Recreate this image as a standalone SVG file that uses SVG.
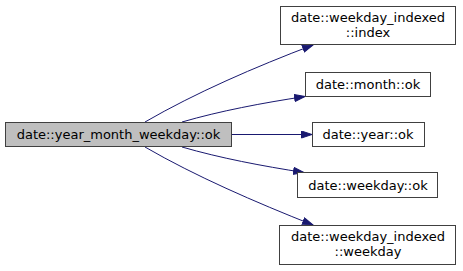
<svg xmlns="http://www.w3.org/2000/svg" width="463" height="271" viewBox="0 0 463 271">
  <style>
    .node rect { fill: #ffffff; stroke: #404040; stroke-width: 1; }
    .node.root rect { fill: #bfbfbf; }
    .node text { font-family: "DejaVu Sans", "Liberation Sans", sans-serif; font-size: 13px; fill: #000000; text-anchor: middle; }
    .edge { fill: none; stroke: #191970; stroke-width: 1; }
  </style>
  <defs>
    <marker id="arrow" markerUnits="userSpaceOnUse" markerWidth="12" markerHeight="9" refX="11" refY="4" orient="auto">
      <path d="M0.5,0.5 L11,4 L0.5,7.5 Z" fill="#191970" stroke="#191970" stroke-width="1"/>
    </marker>
  </defs>

  <g id="edges">
    <path class="edge" marker-end="url(#arrow)" d="M145,122 C195,93 255,67 313,45"/>
    <path class="edge" marker-end="url(#arrow)" d="M182,122 C220,111 262,103 305,96.5"/>
    <path class="edge" marker-end="url(#arrow)" d="M232,134.5 L312,134.5"/>
    <path class="edge" marker-end="url(#arrow)" d="M182,147 C220,158 262,166 304,172.5"/>
    <path class="edge" marker-end="url(#arrow)" d="M145,147 C195,176 255,202 313,225"/>
  </g>

  <g id="node-root" class="node root">
    <rect x="5.5" y="122.5" width="226" height="24"/>
    <text x="118.5" y="139">date::year_month_weekday::ok</text>
  </g>

  <g id="node-index" class="node">
    <rect x="280.5" y="6.5" width="175" height="38"/>
    <text x="368" y="22">date::weekday_indexed</text>
    <text x="368" y="37">::index</text>
  </g>

  <g id="node-month-ok" class="node">
    <rect x="305.5" y="72.5" width="125" height="24"/>
    <text x="368" y="89">date::month::ok</text>
  </g>

  <g id="node-year-ok" class="node">
    <rect x="312.5" y="122.5" width="112" height="24"/>
    <text x="368" y="139">date::year::ok</text>
  </g>

  <g id="node-weekday-ok" class="node">
    <rect x="297.5" y="172.5" width="140" height="25"/>
    <text x="368" y="189.5">date::weekday::ok</text>
  </g>

  <g id="node-weekday" class="node">
    <rect x="279.5" y="225.5" width="176" height="39"/>
    <text x="368" y="241">date::weekday_indexed</text>
    <text x="368" y="256">::weekday</text>
  </g>
</svg>
